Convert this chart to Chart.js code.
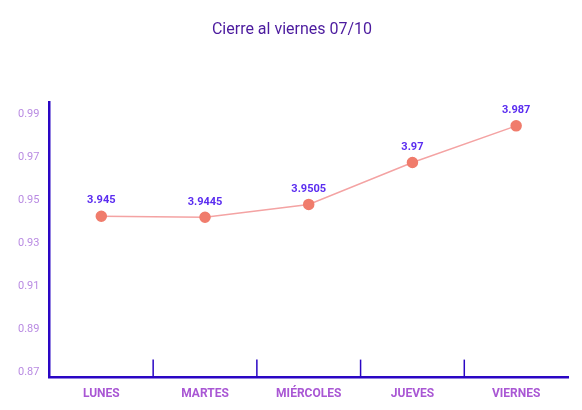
<!DOCTYPE html>
<html>
<head>
<meta charset="utf-8">
<script src="https://cdn.jsdelivr.net/npm/chart.js@4.4.0/dist/chart.umd.min.js"></script>
<style>
  html, body { margin: 0; padding: 0; background: #fff; }
  #wrap { width: 582px; height: 410px; }
</style>
</head>
<body>
<div id="wrap"><canvas id="graph"></canvas></div>
<script>
// data
const days = ['LUNES', 'MARTES', 'MIÉRCOLES', 'JUEVES', 'VIERNES'];
const closing = [3.945, 3.9445, 3.9505, 3.97, 3.987];
const yTicks = [3.87, 3.89, 3.91, 3.93, 3.95, 3.97, 3.99];

const axisColor = '#2a06c4';

// value labels above each point
const pointLabels = {
  id: 'pointLabels',
  afterDatasetsDraw(chart) {
    const ctx = chart.ctx;
    const meta = chart.getDatasetMeta(0);
    ctx.save();
    ctx.font = 'bold 11px Roboto';
    ctx.fillStyle = '#5a2cf0';
    ctx.textAlign = 'center';
    ctx.textBaseline = 'bottom';
    meta.data.forEach((pt, i) => {
      ctx.fillText(String(closing[i]), pt.x, pt.y - 10);
    });
    ctx.restore();
  }
};

// small upright ticks between the categories
const splitTicks = {
  id: 'splitTicks',
  afterDraw(chart) {
    const x = chart.scales.x;
    const ctx = chart.ctx;
    const bottom = chart.chartArea.bottom;
    ctx.save();
    ctx.strokeStyle = axisColor;
    ctx.lineWidth = 1.5;
    for (let i = 0; i < days.length - 1; i++) {
      const px = (x.getPixelForValue(i) + x.getPixelForValue(i + 1)) / 2;
      ctx.beginPath();
      ctx.moveTo(px, bottom);
      ctx.lineTo(px, bottom - 18);
      ctx.stroke();
    }
    ctx.restore();
  }
};

const config = {
  type: 'line',
  data: {
    labels: days,
    datasets: [{
      data: closing,
      borderColor: '#f4a3a3',
      borderWidth: 1.5,
      pointBackgroundColor: '#f07c6c',
      pointBorderColor: '#f07c6c',
      pointRadius: 5,
      tension: 0
    }]
  },
  options: {
    responsive: true,
    maintainAspectRatio: false,
    animation: false,
    layout: { padding: { left: 16, right: 14, top: 10, bottom: 8 } },
    plugins: {
      legend: { display: false },
      tooltip: { enabled: false },
      title: {
        display: true,
        text: 'Cierre al viernes 07/10',
        color: '#4b1a9e',
        font: { family: 'Roboto', size: 16, weight: 'normal' },
        padding: { top: 10, bottom: 63 }
      }
    },
    scales: {
      x: {
        offset: true,
        grid: { display: false },
        border: { color: axisColor, width: 2.5 },
        ticks: {
          color: '#a957d4',
          font: { family: 'Roboto', size: 12, weight: 'bold' },
          padding: 1
        }
      },
      y: {
        min: 3.87,
        max: 3.998,
        afterBuildTicks(scale) {
          scale.ticks = yTicks.map(v => ({ value: v }));
        },
        grid: { display: false },
        border: { color: axisColor, width: 2.5 },
        ticks: {
          color: '#b98be2',
          font: { family: 'Roboto', size: 11 },
          padding: 2,
          labelOffset: -5,
          callback: v => (v - 3).toFixed(2)
        }
      }
    }
  },
  plugins: [pointLabels, splitTicks]
};

const dayChart = new Chart(document.getElementById('graph'), config);
</script>
</body>
</html>
